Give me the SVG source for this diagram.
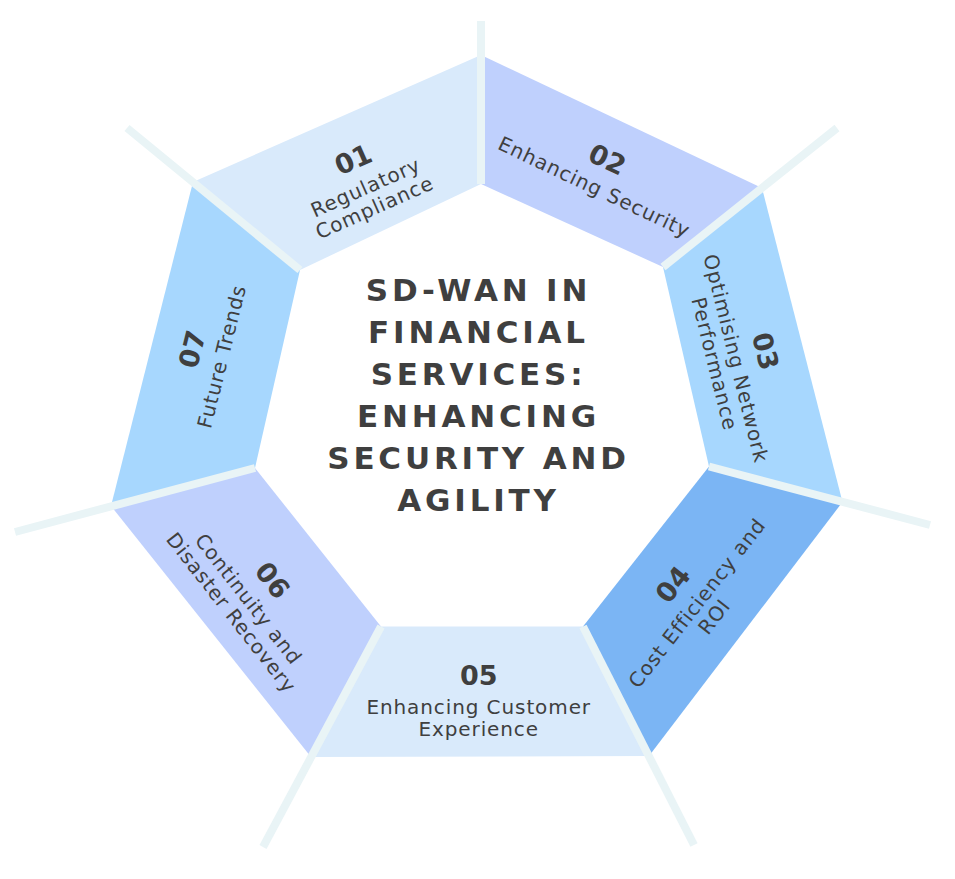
<svg xmlns="http://www.w3.org/2000/svg" width="955" height="879" viewBox="0 0 955 879">
<style>
.num{font-family:"DejaVu Sans",sans-serif;font-weight:bold;font-size:27px;fill:#3f3f3f;text-anchor:middle}
.lbl{font-family:"DejaVu Sans",sans-serif;font-size:20px;letter-spacing:0.9px;fill:#3f3f3f;text-anchor:middle}
.title{font-family:"DejaVu Sans",sans-serif;font-weight:bold;font-size:31px;letter-spacing:3.8px;fill:#3f3f3f;text-anchor:middle}
.div{stroke:#E9F4F6;stroke-width:8;stroke-linecap:butt;fill:none}
.c1{fill:#D9EAFB}.c2{fill:#BFD0FD}.c3{fill:#A7D7FE}.c4{fill:#7BB5F4}
</style>
<rect width="955" height="879" fill="#ffffff"/>
<g id="seg-01">
<polygon class="c1" points="300,270 193,182 481,55 481,184"/>
<g transform="translate(353,159) rotate(-24)">
<text class="num" x="0" y="10">01</text>
<text class="lbl" x="0" y="38">Regulatory</text>
<text class="lbl" x="0" y="60">Compliance</text>
</g>
</g>
<g id="seg-02">
<polygon class="c2" points="481,184 481,55 762,188 663,267"/>
<g transform="translate(607.5,159) rotate(25.3)">
<text class="num" x="0" y="10">02</text>
<text class="lbl" x="0" y="38">Enhancing Security</text>
</g>
</g>
<g id="seg-03">
<polygon class="c3" points="663,267 762,188 842.5,502 709,466.5"/>
<g transform="translate(766,351) rotate(76)">
<text class="num" x="0" y="10">03</text>
<text class="lbl" x="0" y="38">Optimising Network</text>
<text class="lbl" x="0" y="60">Performance</text>
</g>
</g>
<g id="seg-04">
<polygon class="c4" points="709,466.5 842.5,502 649,756 583,626.5"/>
<g transform="translate(672.5,584) rotate(-52)">
<text class="num" x="0" y="10">04</text>
<text class="lbl" x="0" y="38">Cost Efficiency and</text>
<text class="lbl" x="0" y="60">ROI</text>
</g>
</g>
<g id="seg-05">
<polygon class="c1" points="583,626.5 649,756 311,757 381,626.5"/>
<g transform="translate(478.7,675)">
<text class="num" x="0" y="10">05</text>
<text class="lbl" x="0" y="39">Enhancing Customer</text>
<text class="lbl" x="0" y="61">Experience</text>
</g>
</g>
<g id="seg-06">
<polygon class="c2" points="381,626.5 311,757 111,506 255,468"/>
<g transform="translate(273,580) rotate(52)">
<text class="num" x="0" y="10">06</text>
<text class="lbl" x="0" y="38">Continuity and</text>
<text class="lbl" x="0" y="60">Disaster Recovery</text>
</g>
</g>
<g id="seg-07">
<polygon class="c3" points="255,468 111,506 193,182 300,270"/>
<g transform="translate(191.7,349) rotate(-76)">
<text class="num" x="0" y="10">07</text>
<text class="lbl" x="0" y="38">Future Trends</text>
</g>
</g>
<g id="dividers">
<line class="div" x1="481" y1="21" x2="481" y2="184"/>
<line class="div" x1="837" y1="128" x2="663" y2="267"/>
<line class="div" x1="930" y1="525" x2="709" y2="466.5"/>
<line class="div" x1="694" y1="845" x2="583" y2="626.5"/>
<line class="div" x1="263" y1="847" x2="381" y2="626.5"/>
<line class="div" x1="15" y1="532" x2="255" y2="468"/>
<line class="div" x1="127" y1="128" x2="300" y2="270"/>
</g>
<g id="title">
<text class="title" x="478.5" y="300.5">SD-WAN IN</text>
<text class="title" x="478.5" y="342.5">FINANCIAL</text>
<text class="title" x="478.5" y="385">SERVICES:</text>
<text class="title" x="478.5" y="427">ENHANCING</text>
<text class="title" x="478.5" y="469">SECURITY AND</text>
<text class="title" x="478.5" y="511">AGILITY</text>
</g>
</svg>
